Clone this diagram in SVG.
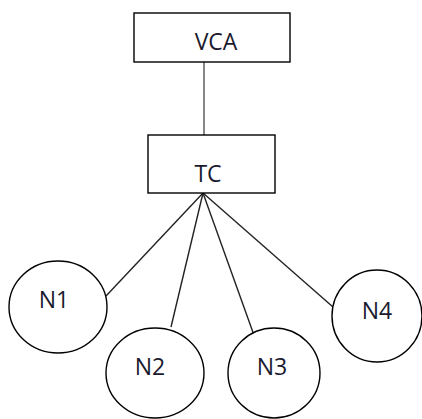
<svg xmlns="http://www.w3.org/2000/svg" width="422" height="419" viewBox="0 0 422 419">
<style>
.box{fill:#fff;stroke:#000;stroke-width:1.4}
.node{fill:#fff;stroke:#000;stroke-width:1.4}
.lbl{font-family:"Open Sans","Liberation Sans",sans-serif;font-size:23px;fill:#1a1a2e;text-anchor:middle}
.edge{stroke:#222;stroke-width:1.4;fill:none}
</style>
<rect width="422" height="419" fill="#fff"/>
<g id="connectors">
<line class="edge" x1="204" y1="62" x2="204" y2="135" style="stroke:#555"/>
<line class="edge" x1="203" y1="193" x2="106" y2="296"/>
<line class="edge" x1="203" y1="193" x2="171" y2="327"/>
<line class="edge" x1="203" y1="193" x2="255" y2="338"/>
<line class="edge" x1="203" y1="193" x2="333" y2="307"/>
</g>
<g id="VCA">
<rect class="box" x="134" y="13" width="156" height="49"/>
<text class="lbl" x="216" y="50">VCA</text>
</g>
<g id="TC">
<rect class="box" x="148" y="135" width="127" height="58"/>
<text class="lbl" x="208" y="182">TC</text>
</g>
<g id="N1">
<ellipse class="node" cx="58" cy="307" rx="49" ry="46"/>
<text class="lbl" x="54" y="308">N1</text>
</g>
<g id="N2">
<ellipse class="node" cx="155" cy="373" rx="49" ry="45"/>
<text class="lbl" x="150" y="375">N2</text>
</g>
<g id="N3">
<ellipse class="node" cx="274" cy="373" rx="46" ry="45"/>
<text class="lbl" x="272" y="375">N3</text>
</g>
<g id="N4">
<ellipse class="node" cx="377" cy="316" rx="45" ry="46"/>
<text class="lbl" x="377" y="319">N4</text>
</g>
</svg>
